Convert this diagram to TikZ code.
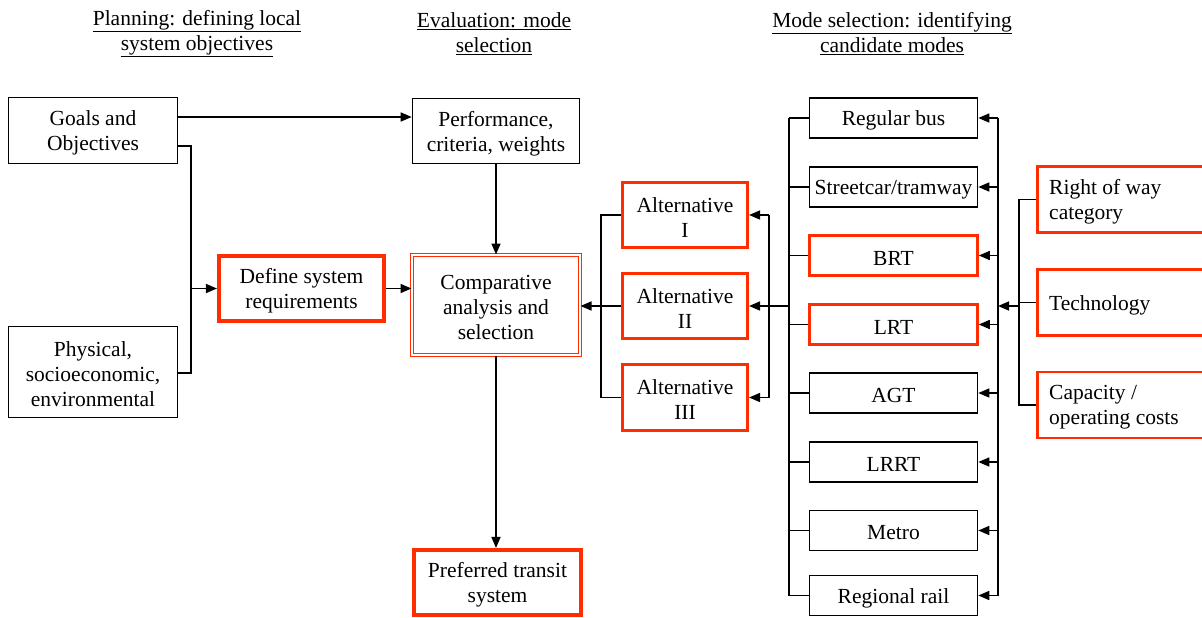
\documentclass[tikz,border=0pt]{standalone}
\usepackage{fontspec}
\setmainfont{Liberation Serif}
\newfontfamily\diagfont{Liberation Serif}
\usetikzlibrary{arrows.meta}
\definecolor{accent}{RGB}{255,45,0}
\begin{document}
\begin{tikzpicture}[x=1pt,y=-1pt,
  every node/.style={font=\diagfont\fontsize{21.5}{25}\selectfont},
  labeltext/.style={align=center, inner sep=0pt, yshift=-2.5pt},
  txt/.style={label={[labeltext]center:{#1}}},
  lefttxt/.style={label={[labeltext, align=left, anchor=west, xshift=13pt]west:{#1}}},
  box/.style={draw=black, line width=1.6pt, rectangle, inner sep=0pt},
  redbox/.style={box, draw=accent, line width=2.6pt},
  keybox/.style={box, draw=accent, line width=3.6pt},
  critbox/.style={redbox, anchor=west, minimum width=180pt, minimum height=66pt},
  modebox/.style={box, minimum width=168pt, minimum height=40pt},
  altbox/.style={redbox, minimum width=125.5pt, minimum height=65.5pt},
  link/.style={line width=1.6pt},
  arr/.style={link, -{Triangle[length=11pt,width=9pt]}},
  heading/.style={align=center, inner sep=0pt}]
\useasboundingbox (0,0) rectangle (1202,618);
\clip (0,0) rectangle (1202,618);
\fill[white] (0,0) rectangle (1202,618);

% column headings
\node[heading] (h1) at (197,33.5) {\underline{Planning: defining local}\\\underline{system objectives}};
\node[heading] (h2) at (494,33.5) {\underline{Evaluation: mode}\\\underline{selection}};
\node[heading] (h3) at (892,33.5) {\underline{Mode selection: identifying}\\\underline{candidate modes}};

% planning column
\node[box, minimum width=169pt, minimum height=66pt, txt={Goals and\\Objectives}] (goals) at (93,130.5) {};
\node[box, minimum width=169pt, minimum height=91pt, txt={Physical,\\socioeconomic,\\environmental}] (phys) at (93,372) {};
\node[keybox, minimum width=165.5pt, minimum height=65.5pt, txt={Define system\\requirements}] (define) at (301.5,288.5) {};

% evaluation column
\node[box, minimum width=167pt, minimum height=65pt, txt={Performance,\\criteria, weights}] (perf) at (496,131) {};
\node[box, draw=accent, line width=1pt, double=white, double distance=1.6pt,
      minimum width=168pt, minimum height=100pt, txt={Comparative\\analysis and\\selection}] (comp) at (496,305) {};
\node[keybox, minimum width=167.5pt, minimum height=65.5pt, txt={Preferred transit\\system}] (pref) at (497.5,582.5) {};

% alternatives
\node[altbox, txt={Alternative\\I}] (alt1) at (685,215) {};
\node[altbox, txt={Alternative\\II}] (alt2) at (685,306) {};
\node[altbox, minimum height=66.5pt, txt={Alternative\\III}] (alt3) at (685,397.5) {};

% candidate modes
\node[modebox, txt={Regular bus}] (m1) at (893.5,118) {};
\node[modebox, txt={Streetcar/tramway}] (m2) at (893.5,187) {};
\node[modebox, draw=accent, line width=2.6pt, txt={BRT}] (m3) at (893.5,255.5) {};
\node[modebox, draw=accent, line width=2.6pt, txt={LRT}] (m4) at (893.5,324.5) {};
\node[modebox, txt={AGT}] (m5) at (893.5,393) {};
\node[modebox, txt={LRRT}] (m6) at (893.5,462) {};
\node[modebox, txt={Metro}] (m7) at (893.5,530.5) {};
\node[modebox, txt={Regional rail}] (m8) at (893.5,595.5) {};

% mode attributes
\node[critbox, lefttxt={Right of way\\category}] (c1) at (1036,199.5) {};
\node[critbox, lefttxt={Technology}] (c2) at (1036,302.5) {};
\node[critbox, lefttxt={Capacity /\\operating costs}] (c3) at (1036,405) {};

% planning connectors
\draw[arr] (goals.east |- 0,117) -- (perf.west |- 0,117);
\coordinate (jp) at (191,288.5);
\draw[link] (goals.east |- 0,146) -| (jp) |- (phys.east |- 0,373);
\draw[arr] (jp) -- (define.west);
\draw[arr] (define.east) -- (define.east -| comp.west);

% evaluation connectors
\draw[arr] (perf.south) -- (comp.north);
\draw[arr] (comp.south) -- (comp.south |- pref.north);

% alternatives feeding the comparison
\coordinate (ja) at (601,306);
\draw[link] (alt1.west) -| (ja) |- (alt3.west);
\draw[arr] (alt2.west) -- (alt2.west -| comp.east);

% modes feeding the alternatives
\coordinate (jb) at (769,306);
\coordinate (jm) at (789,306);
\draw[link] (alt1.east -| jb) -- (alt3.east -| jb);
\draw[arr] (alt1.east -| jb) -- (alt1.east);
\draw[arr] (jb) -- (alt2.east);
\draw[arr] (alt3.east -| jb) -- (alt3.east);
\draw[link] (jm) -- (jb);
\draw[link] (m1.west -| jm) -- (m8.west -| jm);
\foreach \m in {m1,m2,m3,m4,m5,m6,m7,m8}
  \draw[link] (\m.west) -- (\m.west -| jm);

% attributes feeding the modes
\coordinate (jr) at (998,306);
\coordinate (jc) at (1019,306);
\draw[link] (m1.east -| jr) -- (m8.east -| jr);
\foreach \m in {m1,m2,m3,m4,m5,m6,m7,m8}
  \draw[arr] (\m.east -| jr) -- (\m.east);
\draw[arr] (jc) -- (jr);
\draw[link] (c1.west) -| (jc) |- (c3.west);
\draw[link] (c2.west) -- (c2.west -| jc);
\end{tikzpicture}
\end{document}
